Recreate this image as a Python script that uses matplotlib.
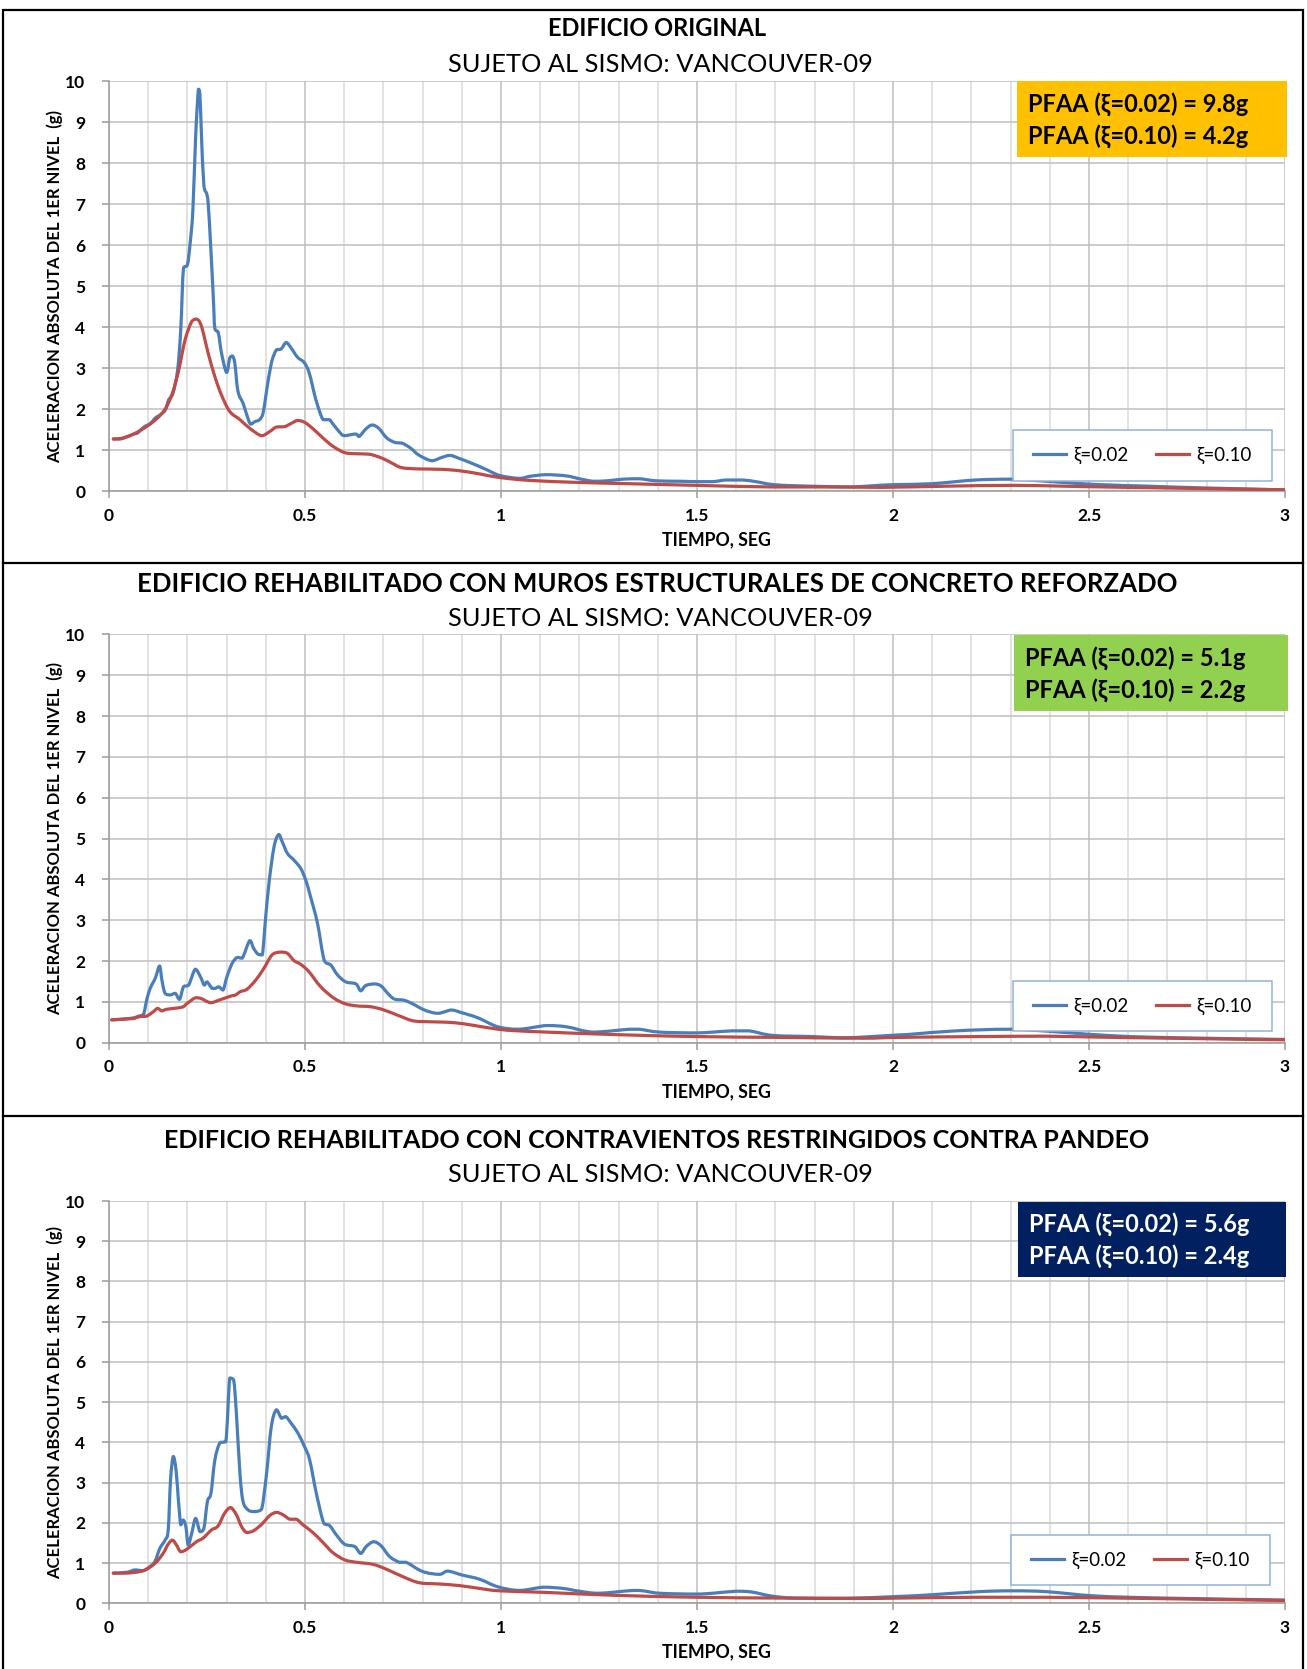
import matplotlib
matplotlib.use("Agg")
import matplotlib.pyplot as plt
from matplotlib.patches import Rectangle, PathPatch
from matplotlib.lines import Line2D
from matplotlib.path import Path
from matplotlib.ticker import MultipleLocator, FuncFormatter

plt.rcParams['font.family'] = ['Lato', 'DejaVu Sans']

# ---------------- data: floor absolute acceleration spectra ----------------
# Edificio original
t_orig_02 = [0.011, 0.03, 0.063, 0.072, 0.089, 0.106, 0.118, 0.131, 0.144, 0.152,
             0.163, 0.175, 0.183, 0.19, 0.20, 0.207, 0.214, 0.221, 0.228, 0.232,
             0.236, 0.242, 0.249, 0.253, 0.259, 0.266, 0.27, 0.279, 0.287, 0.30,
             0.308, 0.315, 0.321, 0.329, 0.342, 0.35, 0.361, 0.372, 0.384, 0.393,
             0.401, 0.414, 0.427, 0.439, 0.452, 0.465, 0.481, 0.498, 0.511, 0.528,
             0.546, 0.562, 0.57, 0.587, 0.60, 0.629, 0.638, 0.655, 0.671, 0.688,
             0.709, 0.731, 0.747, 0.769, 0.79, 0.823, 0.849, 0.87, 0.895, 0.925,
             0.959, 0.997, 1.047, 1.074, 1.116, 1.167, 1.20, 1.235, 1.27, 1.311,
             1.353, 1.396, 1.455, 1.497, 1.54, 1.574, 1.616, 1.65, 1.692, 1.75,
             1.836, 1.896, 1.963, 2.014, 2.1, 2.21, 2.305, 2.42, 2.52, 2.65,
             2.78, 3.0]
a_orig_02 = [1.28, 1.28, 1.40, 1.42, 1.57, 1.66, 1.79, 1.87, 1.99, 2.23,
             2.39, 2.96, 3.94, 5.44, 5.52, 6.05, 6.86, 8.64, 9.80, 9.66,
             8.64, 7.47, 7.26, 7.02, 6.05, 4.75, 3.98, 3.86, 3.37, 2.90,
             3.25, 3.30, 3.12, 2.44, 2.15, 1.91, 1.64, 1.70, 1.75, 1.91,
             2.39, 3.12, 3.45, 3.47, 3.63, 3.49, 3.27, 3.14, 2.88, 2.23,
             1.75, 1.75, 1.66, 1.46, 1.36, 1.40, 1.34, 1.52, 1.62, 1.54,
             1.30, 1.19, 1.18, 1.06, 0.89, 0.75, 0.83, 0.88, 0.80, 0.69,
             0.55, 0.39, 0.32, 0.37, 0.41, 0.38, 0.31, 0.25, 0.26, 0.30,
             0.31, 0.26, 0.25, 0.24, 0.24, 0.28, 0.28, 0.24, 0.17, 0.14,
             0.12, 0.11, 0.15, 0.17, 0.19, 0.28, 0.30, 0.23, 0.17, 0.13,
             0.09, 0.04]
t_orig_10 = [0.011, 0.03, 0.063, 0.106, 0.139, 0.16, 0.177, 0.194, 0.211, 0.224,
             0.236, 0.253, 0.27, 0.287, 0.308, 0.334, 0.359, 0.389, 0.41, 0.427,
             0.448, 0.465, 0.481, 0.498, 0.519, 0.545, 0.57, 0.60, 0.629, 0.663,
             0.697, 0.722, 0.747, 0.79, 0.849, 0.899, 0.95, 0.997, 1.074, 1.20,
             1.328, 1.497, 1.692, 1.879, 1.97, 2.14, 2.31, 2.48, 2.73, 3.0]
a_orig_10 = [1.28, 1.29, 1.40, 1.65, 1.95, 2.35, 2.92, 3.69, 4.14, 4.20,
             4.02, 3.37, 2.80, 2.35, 1.95, 1.75, 1.54, 1.36, 1.46, 1.57,
             1.58, 1.66, 1.73, 1.69, 1.54, 1.31, 1.11, 0.95, 0.92, 0.91,
             0.81, 0.69, 0.58, 0.55, 0.54, 0.50, 0.42, 0.34, 0.27, 0.22,
             0.19, 0.15, 0.11, 0.11, 0.10, 0.13, 0.15, 0.12, 0.08, 0.04]

# Edificio rehabilitado con muros de concreto reforzado
t_muros_02 = [0.007, 0.058, 0.075, 0.088, 0.096, 0.105, 0.118, 0.129, 0.135, 0.143,
              0.156, 0.169, 0.18, 0.19, 0.203, 0.22, 0.233, 0.243, 0.25, 0.263,
              0.271, 0.28, 0.291, 0.301, 0.314, 0.327, 0.34, 0.359, 0.369, 0.38,
              0.391, 0.399, 0.408, 0.421, 0.433, 0.442, 0.455, 0.472, 0.489, 0.502,
              0.514, 0.532, 0.549, 0.566, 0.583, 0.604, 0.63, 0.642, 0.655, 0.677,
              0.694, 0.711, 0.728, 0.753, 0.775, 0.805, 0.839, 0.873, 0.898, 0.941,
              0.992, 1.046, 1.116, 1.167, 1.235, 1.328, 1.353, 1.404, 1.497, 1.54,
              1.59, 1.633, 1.692, 1.794, 1.879, 2.014, 2.05, 2.16, 2.307, 2.56,
              2.73, 3.0]
a_muros_02 = [0.56, 0.60, 0.65, 0.70, 1.04, 1.33, 1.58, 1.88, 1.53, 1.21,
              1.17, 1.21, 1.06, 1.37, 1.41, 1.80, 1.62, 1.41, 1.49, 1.33,
              1.33, 1.37, 1.29, 1.62, 1.94, 2.09, 2.07, 2.50, 2.31, 2.17,
              2.15, 3.00, 3.90, 4.80, 5.10, 4.92, 4.64, 4.47, 4.27, 3.98,
              3.58, 2.92, 2.02, 1.90, 1.66, 1.49, 1.44, 1.27, 1.40, 1.44,
              1.39, 1.21, 1.07, 1.04, 0.95, 0.80, 0.72, 0.80, 0.74, 0.61,
              0.39, 0.33, 0.42, 0.39, 0.26, 0.33, 0.33, 0.26, 0.24, 0.26,
              0.29, 0.29, 0.18, 0.15, 0.12, 0.19, 0.21, 0.29, 0.33, 0.17,
              0.12, 0.08]
t_muros_10 = [0.007, 0.058, 0.079, 0.096, 0.113, 0.124, 0.135, 0.148, 0.186, 0.199,
              0.22, 0.233, 0.259, 0.28, 0.31, 0.323, 0.335, 0.352, 0.374, 0.395,
              0.416, 0.438, 0.455, 0.472, 0.489, 0.51, 0.54, 0.574, 0.604, 0.634,
              0.668, 0.702, 0.745, 0.779, 0.83, 0.881, 0.933, 0.992, 1.044, 1.116,
              1.286, 1.497, 1.709, 1.92, 2.014, 2.22, 2.39, 2.56, 3.0]
a_muros_10 = [0.56, 0.59, 0.64, 0.65, 0.76, 0.84, 0.78, 0.82, 0.87, 0.96,
              1.10, 1.09, 0.98, 1.04, 1.14, 1.17, 1.25, 1.31, 1.53, 1.82,
              2.15, 2.22, 2.19, 2.01, 1.92, 1.74, 1.37, 1.09, 0.95, 0.90,
              0.88, 0.80, 0.64, 0.53, 0.51, 0.49, 0.42, 0.33, 0.29, 0.26,
              0.20, 0.15, 0.13, 0.11, 0.13, 0.15, 0.16, 0.13, 0.07]

# Edificio rehabilitado con contravientos restringidos contra pandeo
t_crp_02 = [0.011, 0.045, 0.066, 0.087, 0.104, 0.117, 0.13, 0.143, 0.151, 0.157,
            0.164, 0.171, 0.177, 0.183, 0.189, 0.196, 0.202, 0.211, 0.221, 0.232,
            0.242, 0.251, 0.26, 0.27, 0.283, 0.298, 0.308, 0.318, 0.325, 0.334,
            0.342, 0.355, 0.368, 0.38, 0.39, 0.402, 0.414, 0.427, 0.44, 0.451,
            0.465, 0.482, 0.499, 0.512, 0.529, 0.548, 0.563, 0.58, 0.601, 0.627,
            0.642, 0.656, 0.675, 0.694, 0.716, 0.741, 0.758, 0.80, 0.843, 0.864,
            0.902, 0.945, 0.992, 1.047, 1.108, 1.158, 1.2, 1.25, 1.345, 1.404,
            1.497, 1.54, 1.6, 1.64, 1.69, 1.75, 1.88, 2.014, 2.095, 2.22,
            2.307, 2.39, 2.52, 2.69, 3.0]
a_crp_02 = [0.75, 0.77, 0.83, 0.81, 0.91, 1.04, 1.37, 1.57, 1.82, 3.07,
            3.65, 3.31, 2.57, 1.95, 2.07, 1.91, 1.45, 1.74, 2.11, 1.78,
            1.86, 2.53, 2.73, 3.56, 3.99, 4.02, 5.60, 5.55, 4.72, 3.23,
            2.53, 2.32, 2.28, 2.29, 2.36, 3.23, 4.39, 4.81, 4.60, 4.64,
            4.47, 4.23, 3.89, 3.56, 2.73, 1.99, 1.93, 1.70, 1.47, 1.41,
            1.24, 1.41, 1.53, 1.43, 1.16, 1.02, 1.02, 0.79, 0.72, 0.80,
            0.70, 0.60, 0.41, 0.32, 0.40, 0.37, 0.30, 0.25, 0.32, 0.25,
            0.23, 0.25, 0.30, 0.28, 0.18, 0.13, 0.125, 0.17, 0.21, 0.29,
            0.31, 0.29, 0.18, 0.13, 0.08]
t_crp_10 = [0.011, 0.045, 0.087, 0.117, 0.138, 0.151, 0.162, 0.172, 0.183, 0.198,
            0.223, 0.24, 0.261, 0.278, 0.295, 0.31, 0.325, 0.338, 0.351, 0.368,
            0.389, 0.41, 0.427, 0.444, 0.461, 0.478, 0.495, 0.52, 0.546, 0.571,
            0.601, 0.631, 0.673, 0.707, 0.75, 0.792, 0.843, 0.894, 0.945, 0.996,
            1.116, 1.286, 1.497, 1.709, 1.92, 2.014, 2.22, 2.39, 2.65, 3.0]
a_crp_10 = [0.75, 0.75, 0.81, 0.99, 1.24, 1.47, 1.57, 1.45, 1.28, 1.34,
            1.53, 1.62, 1.82, 1.92, 2.24, 2.38, 2.20, 1.91, 1.76, 1.80,
            1.96, 2.18, 2.26, 2.20, 2.09, 2.09, 1.95, 1.76, 1.51, 1.26,
            1.08, 1.02, 0.97, 0.85, 0.66, 0.51, 0.48, 0.44, 0.37, 0.31,
            0.27, 0.20, 0.15, 0.13, 0.12, 0.13, 0.15, 0.15, 0.12, 0.07]

titles = ["EDIFICIO ORIGINAL",
          "EDIFICIO REHABILITADO CON MUROS ESTRUCTURALES DE CONCRETO REFORZADO",
          "EDIFICIO REHABILITADO CON CONTRAVIENTOS RESTRINGIDOS CONTRA PANDEO"]
subtitle = "SUJETO AL SISMO: VANCOUVER-09"
series_labels = ["ξ=0.02", "ξ=0.10"]
pfaa_02 = [9.8, 5.1, 5.6]
pfaa_10 = [4.2, 2.2, 2.4]
y_label = "ACELERACION ABSOLUTA DEL 1ER NIVEL  (g)"
x_label = "TIEMPO, SEG"

# ---------------- layout (pixel based) ----------------
W, H = 1307, 1669
BLUE = "#4A7EBB"
RED = "#BE4B48"
box_colors = ["#FFC000", "#92D050", "#002060"]
box_text_colors = ["black", "black", "white"]
title_sizes = [17, 18.5, 18]

fig = plt.figure(figsize=(W / 100, H / 100), dpi=100)


def fx(px):
    return px / W


def fy(py):
    return 1 - py / H


def smooth_path(xs, ys):
    """Cubic Bezier path through the points (smoothed line without overshoot)."""
    pts = list(zip(xs, ys))
    n = len(pts)
    verts = [pts[0]]
    codes = [Path.MOVETO]
    for i in range(n - 1):
        p0 = pts[i - 1] if i > 0 else pts[i]
        p1 = pts[i]
        p2 = pts[i + 1]
        p3 = pts[i + 2] if i + 2 < n else pts[i + 1]
        lo, hi = min(p1[1], p2[1]), max(p1[1], p2[1])
        c1y = min(max(p1[1] + (p2[1] - p0[1]) / 6, lo), hi)
        c2y = min(max(p2[1] - (p3[1] - p1[1]) / 6, lo), hi)
        c1 = (p1[0] + (p2[0] - p0[0]) / 6, c1y)
        c2 = (p2[0] - (p3[0] - p1[0]) / 6, c2y)
        verts += [c1, c2, p2]
        codes += [Path.CURVE4] * 3
    return Path(verts, codes)


panels = [
    dict(top=81, bottom=491.5, title_y=29, sub_y=65, xlab_y=540,
         box=(1017, 81, 1287, 157), leg=(1013, 430, 1272, 481),
         t02=t_orig_02, a02=a_orig_02, t10=t_orig_10, a10=a_orig_10),
    dict(top=634.5, bottom=1042.7, title_y=584, sub_y=618, xlab_y=1092,
         box=(1014, 635, 1288, 711), leg=(1013, 981, 1272, 1031),
         t02=t_muros_02, a02=a_muros_02, t10=t_muros_10, a10=a_muros_10),
    dict(top=1201, bottom=1603.3, title_y=1140, sub_y=1175, xlab_y=1652,
         box=(1018, 1202, 1286, 1277), leg=(1011, 1535, 1270, 1585),
         t02=t_crp_02, a02=a_crp_02, t10=t_crp_10, a10=a_crp_10),
]

AX_L, AX_R = 109, 1285

for i, p in enumerate(panels):
    ax = fig.add_axes([fx(AX_L), fy(p["bottom"]), (AX_R - AX_L) / W,
                       (p["bottom"] - p["top"]) / H])
    ax.set_xlim(0, 3)
    ax.set_ylim(0, 10)
    ax.xaxis.set_major_locator(MultipleLocator(0.5))
    ax.xaxis.set_minor_locator(MultipleLocator(0.1))
    ax.yaxis.set_major_locator(MultipleLocator(1))
    ax.xaxis.set_major_formatter(FuncFormatter(lambda v, _: f"{v:g}"))
    ax.yaxis.set_major_formatter(FuncFormatter(lambda v, _: f"{v:g}"))
    ax.set_axisbelow(True)
    ax.grid(which="major", axis="both", color="#BFBFBF", lw=1.1)
    ax.grid(which="minor", axis="x", color="#DADADA", lw=1.1)
    ax.tick_params(which="major", length=5, width=1.1, color="#9A9A9A",
                   labelsize=12.5, pad=7)
    ax.tick_params(axis="y", pad=12)
    ax.tick_params(which="minor", length=0)
    for lab in ax.get_xticklabels() + ax.get_yticklabels():
        lab.set_fontweight("bold")
    for s in ("top", "right"):
        ax.spines[s].set_visible(False)
    for s in ("left", "bottom"):
        ax.spines[s].set_color("#9A9A9A")
        ax.spines[s].set_linewidth(1.1)

    for tt, aa, col in ((p["t02"], p["a02"], BLUE), (p["t10"], p["a10"], RED)):
        ax.add_patch(PathPatch(smooth_path(tt, aa), fill=False, edgecolor=col,
                               lw=2.3, joinstyle="round", capstyle="round",
                               zorder=3))

    h_ax = p["bottom"] - p["top"]

    def ax_x(px):
        return (px - AX_L) / (AX_R - AX_L)

    def ax_y(py, p=p, h_ax=h_ax):
        return (p["bottom"] - py) / h_ax

    # PFAA summary box
    bx0, by0, bx1, by1 = p["box"]
    ax.add_patch(Rectangle((ax_x(bx0), ax_y(by1)), ax_x(bx1) - ax_x(bx0),
                           ax_y(by0) - ax_y(by1), transform=ax.transAxes,
                           facecolor=box_colors[i], edgecolor="none",
                           clip_on=False, zorder=5))
    bh = by1 - by0
    for k, (lab, val) in enumerate([("0.02", pfaa_02[i]), ("0.10", pfaa_10[i])]):
        ax.text(ax_x(bx0 + 11), ax_y(by0 + bh * (0.30 + 0.42 * k)),
                f"PFAA (ξ={lab}) = {val:.1f}g", transform=ax.transAxes,
                fontsize=17, fontweight="bold", color=box_text_colors[i],
                va="center", ha="left", zorder=6)

    # legend: frame drawn as its own rectangle, entries centred inside it
    lx0, ly0, lx1, ly1 = p["leg"]
    ax.add_patch(Rectangle((ax_x(lx0), ax_y(ly1)), ax_x(lx1) - ax_x(lx0),
                           ax_y(ly0) - ax_y(ly1), transform=ax.transAxes,
                           facecolor="white", edgecolor="#95B3D7", lw=1.1,
                           clip_on=False, zorder=5))
    handles = [Line2D([], [], color=BLUE, lw=2.3),
               Line2D([], [], color=RED, lw=2.3)]
    leg = ax.legend(handles, series_labels, loc="center", ncol=2,
                    bbox_to_anchor=((ax_x(lx0) + ax_x(lx1)) / 2,
                                    (ax_y(ly0) + ax_y(ly1)) / 2),
                    fontsize=13.5, frameon=False, handlelength=1.75,
                    handletextpad=0.4, columnspacing=1.45, borderpad=0,
                    borderaxespad=0)
    leg.set_zorder(6)

    # titles and axis labels
    fig.text(fx(657), fy(p["title_y"]), titles[i], ha="center", va="center",
             fontsize=title_sizes[i], fontweight="bold")
    fig.text(fx(660), fy(p["sub_y"]), subtitle, ha="center", va="center",
             fontsize=18.3)
    fig.text(fx(716), fy(p["xlab_y"]), x_label, ha="center", va="center",
             fontsize=12.8, fontweight="bold")
    fig.text(fx(55), fy((p["top"] + p["bottom"]) / 2), y_label, ha="center",
             va="center", rotation=90, fontsize=12, fontweight="bold")

# frame around the panels
fig.add_artist(Rectangle((fx(2.5), -0.01), fx(1303) - fx(2.5), fy(10) + 0.01,
                         transform=fig.transFigure, fill=False,
                         edgecolor="black", lw=1.6))
for yy in (563, 1116):
    fig.add_artist(Line2D([fx(2.5), fx(1303)], [fy(yy), fy(yy)],
                          transform=fig.transFigure, color="black", lw=1.6))

fig.savefig("out.png", dpi=100, facecolor="white")
